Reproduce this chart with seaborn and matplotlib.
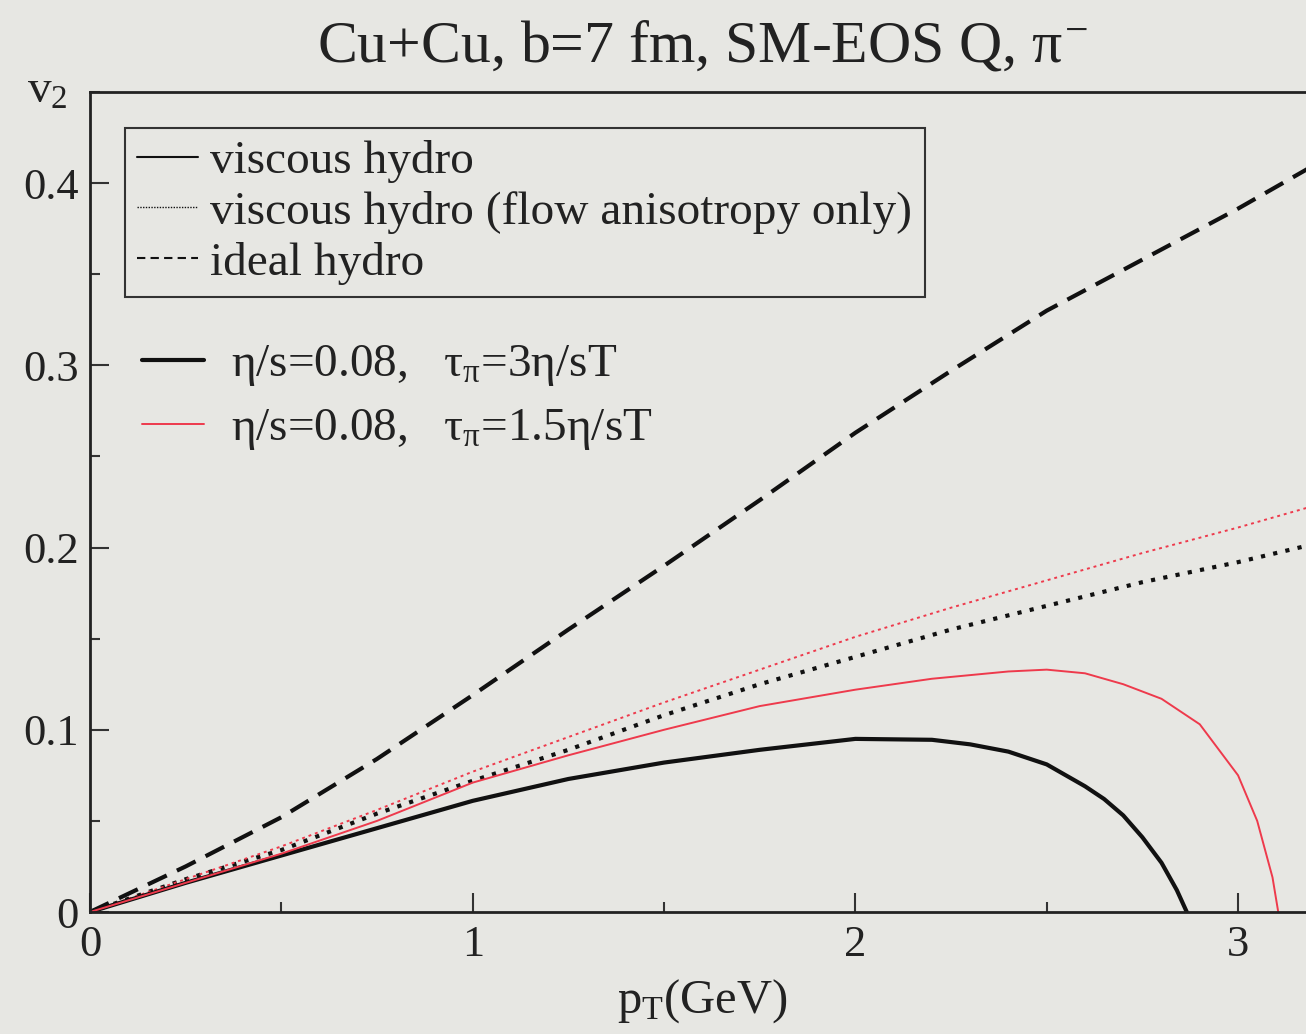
import numpy as np
import pandas as pd
import matplotlib
matplotlib.use("Agg")
import matplotlib.pyplot as plt
from matplotlib.lines import Line2D
from matplotlib.ticker import MultipleLocator, FuncFormatter
import seaborn as sns

# Datos (pT en GeV, v2)
pt_ideal = [0.0, 0.25, 0.5, 0.75, 1.0, 1.25, 1.5, 1.75, 2.0, 2.25, 2.5, 2.75, 3.0, 3.2]
v2_ideal = [0.0, 0.025, 0.052, 0.084, 0.119, 0.155, 0.190, 0.226, 0.263, 0.297, 0.330, 0.358, 0.386, 0.410]

pt_flow = [0.0, 0.25, 0.5, 0.75, 1.0, 1.25, 1.5, 1.75, 2.0, 2.25, 2.5, 2.75, 3.0, 3.2]
v2_flow_3 = [0.0, 0.018, 0.034, 0.054, 0.072, 0.089, 0.108, 0.125, 0.140, 0.155, 0.168, 0.181, 0.192, 0.202]
v2_flow_15 = [0.0, 0.018, 0.036, 0.056, 0.077, 0.096, 0.115, 0.133, 0.151, 0.167, 0.182, 0.197, 0.211, 0.223]

pt_visc_3 = [0.0, 0.25, 0.5, 0.75, 1.0, 1.25, 1.5, 1.75, 2.0, 2.2, 2.3, 2.4, 2.5, 2.6, 2.65, 2.7, 2.75, 2.8, 2.84, 2.866]
v2_visc_3 = [0.0, 0.016, 0.031, 0.046, 0.061, 0.073, 0.082, 0.089, 0.095, 0.0945, 0.092, 0.088, 0.081, 0.069, 0.062, 0.053, 0.041, 0.027, 0.012, 0.0]

pt_visc_15 = [0.0, 0.25, 0.5, 0.75, 1.0, 1.25, 1.5, 1.75, 2.0, 2.2, 2.4, 2.5, 2.6, 2.7, 2.8, 2.9, 3.0, 3.05, 3.09, 3.105]
v2_visc_15 = [0.0, 0.016, 0.032, 0.050, 0.071, 0.086, 0.100, 0.113, 0.122, 0.128, 0.132, 0.133, 0.131, 0.125, 0.117, 0.103, 0.075, 0.050, 0.019, 0.0]

titulo = "Cu+Cu, b=7 fm, SM-EOS Q, $\\pi^{-}$"
etiquetas_tipo = ["viscous hydro", "viscous hydro (flow anisotropy only)", "ideal hydro"]
etiquetas_tau = ["$\\eta$/s=0.08,   $\\tau_{\\pi}$=3$\\eta$/sT",
                 "$\\eta$/s=0.08,   $\\tau_{\\pi}$=1.5$\\eta$/sT"]

fondo = "#e7e7e3"
rojo = "#ee3a4c"
negro = "#111111"
texto = "#222222"

sns.set_theme(style="ticks")
plt.rcParams["font.family"] = ["Liberation Serif", "DejaVu Serif"]
plt.rcParams["mathtext.fontset"] = "custom"
plt.rcParams["mathtext.rm"] = "Liberation Serif"
plt.rcParams["mathtext.it"] = "Liberation Serif"
plt.rcParams["mathtext.bf"] = "Liberation Serif:bold"

fig = plt.figure(figsize=(13.06, 10.34), dpi=100, facecolor=fondo)
ax = fig.add_axes([90 / 1306, 1 - 912 / 1034, 1224.6 / 1306, 820 / 1034])
ax.set_facecolor(fondo)

# Curvas
sns.lineplot(x=pt_ideal, y=v2_ideal, ax=ax, color=negro, lw=3.0, linestyle=(0, (5, 2.7)), sort=False, estimator=None)
sns.lineplot(x=pt_flow, y=v2_flow_3, ax=ax, color=negro, lw=3.0, linestyle=(0, (1, 2)), sort=False, estimator=None)
sns.lineplot(x=pt_flow, y=v2_flow_15, ax=ax, color=rojo, lw=1.4, linestyle=(0, (1.5, 2)), sort=False, estimator=None)
sns.lineplot(x=pt_visc_3, y=v2_visc_3, ax=ax, color=negro, lw=3.0, sort=False, estimator=None)
sns.lineplot(x=pt_visc_15, y=v2_visc_15, ax=ax, color=rojo, lw=1.4, sort=False, estimator=None)

ax.set_xlim(0, 3.2)
ax.set_ylim(0, 0.45)
ax.xaxis.set_major_locator(MultipleLocator(1))
ax.xaxis.set_minor_locator(MultipleLocator(0.5))
ax.yaxis.set_major_locator(MultipleLocator(0.1))
ax.yaxis.set_minor_locator(MultipleLocator(0.05))
ax.xaxis.set_major_formatter(FuncFormatter(lambda v, p: "%g" % v))
ax.yaxis.set_major_formatter(FuncFormatter(lambda v, p: "%g" % v))
ax.tick_params(which="major", direction="in", length=14, width=1.5, labelsize=32, colors="#333333", labelcolor=texto)
ax.tick_params(axis="x", which="major", pad=9)
ax.tick_params(axis="y", which="major", pad=8)
ax.tick_params(which="minor", direction="in", length=7, width=1.5, colors="#333333")
for s in ax.spines.values():
    s.set_linewidth(2.0)
    s.set_color(texto)

ax.set_title(titulo, fontsize=43, color=texto, pad=22)
ax.set_xlabel("p$_{\\mathrm{T}}$(GeV)", fontsize=35, color=texto, labelpad=9)
ax.set_ylabel("v$_2$", fontsize=34, color=texto, rotation=0)
ax.yaxis.set_label_coords(-0.035, 0.975)

# Leyendas
h_tipo = [Line2D([], [], color=negro, lw=1.5),
          Line2D([], [], color=negro, lw=1.0, linestyle=(0, (1, 1))),
          Line2D([], [], color=negro, lw=1.5, linestyle=(0, (4, 2.5)))]
leg1 = ax.legend(h_tipo, etiquetas_tipo, loc="upper left", bbox_to_anchor=(0.0286, 0.956),
                 borderaxespad=0, fontsize=34, frameon=True, fancybox=False, edgecolor="#333333",
                 facecolor=fondo, framealpha=1, handlelength=1.28, handletextpad=0.27,
                 labelspacing=0.16, borderpad=0.26)
leg1.get_frame().set_linewidth(1.5)
for t in leg1.get_texts():
    t.set_color(texto)
ax.add_artist(leg1)

h_tau = [Line2D([], [], color=negro, lw=3.0), Line2D([], [], color=rojo, lw=1.4)]
leg2 = ax.legend(h_tau, etiquetas_tau, loc="upper left", bbox_to_anchor=(0.035, 0.705),
                 borderaxespad=0, fontsize=34, frameon=False, handlelength=1.31,
                 handletextpad=0.57, labelspacing=0.4, borderpad=0.2)
for t in leg2.get_texts():
    t.set_color(texto)

fig.savefig("out.png", dpi=100, facecolor=fondo)
